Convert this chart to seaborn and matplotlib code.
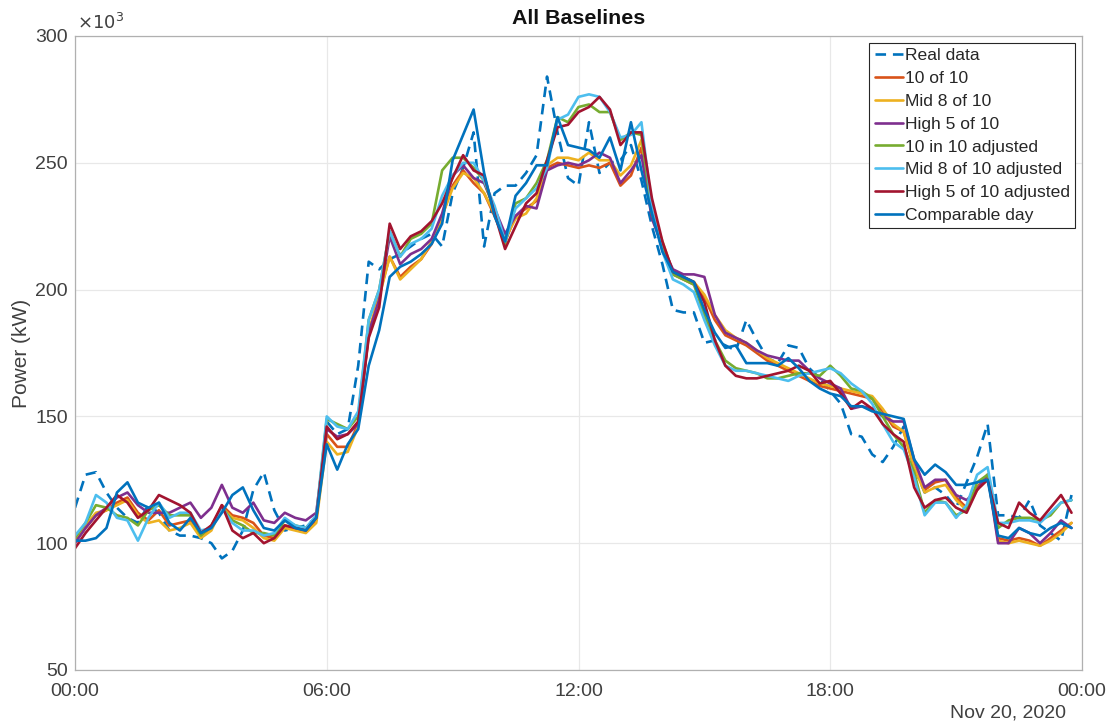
import numpy as np
import pandas as pd
import matplotlib
matplotlib.use("Agg")
import matplotlib.pyplot as plt
import matplotlib.dates as mdates
import seaborn as sns

# ---------------- data (kW, in thousands) ----------------
times = pd.date_range("2020-11-20 00:00", periods=96, freq="15min")

real_data = [
    114, 127, 128, 120, 114, 110, 108, 115, 112, 105, 103, 103,
    102, 100, 94, 97, 105, 121, 128, 113, 105, 106, 107, 110,
    148, 143, 145, 170, 211, 208, 212, 214, 217, 220, 222, 217,
    238, 248, 262, 217, 238, 241, 241, 246, 253, 284, 262, 244,
    241, 266, 246, 250, 251, 257, 243, 225, 210, 192, 191, 191,
    179, 180, 178, 176, 188, 180, 173, 171, 178, 177, 169, 165,
    160, 155, 143, 142, 135, 132, 138, 146, 130, 120, 122, 119,
    114, 124, 134, 147, 111, 111, 110, 117, 107, 104, 101, 119,
]
ten_of_ten = [
    101, 106, 111, 113, 116, 118, 112, 109, 113, 107, 108, 109,
    103, 106, 115, 111, 110, 108, 103, 102, 107, 106, 105, 109,
    143, 138, 138, 147, 182, 198, 213, 205, 209, 212, 218, 229,
    241, 247, 242, 238, 229, 219, 229, 232, 235, 248, 250, 249,
    248, 249, 248, 250, 241, 245, 256, 229, 218, 206, 204, 202,
    197, 188, 182, 180, 178, 175, 172, 170, 168, 166, 164, 162,
    161, 160, 159, 158, 157, 152, 146, 144, 130, 121, 124, 125,
    118, 114, 122, 127, 102, 101, 102, 101, 99, 102, 105, 108,
]
mid8_of_ten = [
    102, 107, 112, 113, 115, 117, 111, 108, 109, 105, 106, 108,
    102, 105, 114, 110, 109, 106, 102, 101, 106, 105, 104, 108,
    140, 135, 136, 146, 184, 197, 213, 204, 208, 212, 219, 229,
    240, 246, 244, 238, 230, 220, 228, 230, 236, 249, 252, 252,
    251, 254, 251, 251, 245, 249, 259, 231, 219, 207, 205, 203,
    198, 190, 184, 181, 179, 176, 173, 171, 169, 167, 165, 163,
    162, 161, 160, 159, 158, 153, 147, 144, 130, 120, 122, 123,
    117, 113, 121, 127, 101, 100, 101, 100, 99, 101, 104, 108,
]
high5_of_ten = [
    100, 106, 111, 114, 118, 120, 115, 112, 112, 112, 114, 116,
    110, 114, 123, 114, 112, 116, 109, 108, 112, 110, 109, 112,
    145, 142, 143, 147, 183, 196, 221, 210, 214, 216, 220, 230,
    245, 249, 244, 242, 232, 222, 229, 233, 232, 247, 249, 250,
    249, 251, 254, 252, 242, 247, 253, 228, 217, 208, 206, 206,
    205, 190, 183, 181, 179, 176, 174, 173, 172, 172, 168, 165,
    163, 161, 153, 154, 153, 150, 148, 148, 133, 122, 125, 125,
    119, 117, 121, 127, 100, 100, 106, 104, 100, 104, 109, 106,
]
ten_in_ten_adj = [
    102, 108, 115, 114, 111, 110, 107, 113, 115, 111, 111, 111,
    103, 107, 114, 109, 107, 104, 104, 103, 109, 107, 106, 110,
    149, 147, 145, 150, 188, 200, 223, 213, 220, 222, 226, 247,
    252, 252, 248, 243, 231, 218, 234, 236, 242, 251, 268, 266,
    272, 273, 270, 270, 259, 262, 261, 230, 217, 206, 204, 202,
    190, 180, 172, 169, 168, 167, 165, 165, 166, 167, 167, 166,
    170, 166, 161, 160, 157, 150, 143, 138, 128, 112, 117, 116,
    111, 113, 124, 127, 106, 109, 110, 110, 109, 111, 116, 117,
]
mid8_of_ten_adj = [
    103, 108, 119, 116, 110, 109, 101, 110, 116, 110, 112, 112,
    105, 106, 114, 108, 105, 105, 103, 104, 110, 107, 106, 111,
    150, 146, 145, 152, 188, 200, 223, 213, 218, 220, 224, 237,
    245, 250, 250, 243, 233, 219, 232, 236, 240, 248, 267, 269,
    276, 277, 276, 270, 260, 261, 266, 232, 215, 204, 202, 199,
    188, 178, 170, 168, 168, 167, 166, 165, 164, 166, 167, 168,
    169, 167, 163, 160, 155, 147, 140, 137, 126, 111, 116, 116,
    110, 115, 127, 130, 108, 108, 109, 109, 108, 112, 116, 117,
]
high5_of_ten_adj = [
    98, 104, 109, 114, 119, 116, 110, 113, 119, 117, 115, 112,
    104, 107, 115, 105, 102, 104, 100, 102, 107, 106, 105, 110,
    146, 141, 143, 148, 181, 193, 226, 216, 221, 223, 227, 234,
    244, 253, 247, 245, 230, 216, 225, 234, 238, 251, 264, 265,
    270, 272, 276, 271, 257, 262, 262, 236, 219, 207, 205, 203,
    195, 180, 170, 166, 165, 165, 166, 167, 168, 170, 168, 163,
    164, 159, 153, 156, 153, 147, 143, 140, 122, 114, 117, 118,
    114, 112, 121, 125, 108, 106, 116, 112, 109, 114, 119, 112,
]
comparable_day = [
    101, 101, 102, 106, 120, 124, 116, 114, 116, 108, 105, 110,
    104, 106, 112, 119, 122, 113, 106, 105, 109, 106, 105, 110,
    139, 129, 139, 145, 170, 184, 205, 209, 211, 214, 218, 226,
    251, 261, 271, 246, 229, 219, 237, 242, 249, 249, 268, 257,
    256, 255, 252, 260, 247, 266, 247, 230, 215, 207, 205, 203,
    192, 183, 177, 178, 171, 171, 171, 170, 173, 169, 164, 161,
    159, 158, 154, 154, 152, 151, 150, 149, 133, 127, 131, 128,
    123, 123, 124, 125, 103, 102, 106, 104, 103, 106, 108, 106,
]

series_names = ["Real data", "10 of 10", "Mid 8 of 10", "High 5 of 10",
                "10 in 10 adjusted", "Mid 8 of 10 adjusted",
                "High 5 of 10 adjusted", "Comparable day"]
series_values = [real_data, ten_of_ten, mid8_of_ten, high5_of_ten,
                 ten_in_ten_adj, mid8_of_ten_adj, high5_of_ten_adj,
                 comparable_day]
colors = ["#0072BD", "#D95319", "#EDB120", "#7E2F8E",
          "#77AC30", "#4DBEEE", "#A2142F", "#0072BD"]

y_ticks = [50, 100, 150, 200, 250, 300]

# ---------------- plotting ----------------
sns.set_theme(style="white")
plt.rcParams["font.family"] = ["Liberation Sans", "DejaVu Sans"]

fig = plt.figure(figsize=(11.19, 7.27), dpi=100)
ax = fig.add_axes([75 / 1119, 1 - 670 / 727, (1082 - 75) / 1119, (670 - 36) / 727])

for name, vals, col in zip(series_names, series_values, colors):
    df = pd.DataFrame({"time": times, "power": vals})
    if name == "Real data":
        sns.lineplot(data=df, x="time", y="power", ax=ax, color=col,
                     linewidth=1.9, label=name,
                     linestyle=(0, (4, 2.6)))
    else:
        sns.lineplot(data=df, x="time", y="power", ax=ax, color=col,
                     linewidth=1.9, label=name)

start = pd.Timestamp("2020-11-20 00:00")
end = pd.Timestamp("2020-11-21 00:00")
ax.set_xlim(start, end)
ax.set_ylim(50, 300)
ax.set_yticks(y_ticks)
ax.xaxis.set_major_locator(mdates.HourLocator(byhour=[0, 6, 12, 18]))
ax.xaxis.set_major_formatter(mdates.DateFormatter("%H:%M"))

tick_col = "#404040"
ax.tick_params(axis="both", which="major", direction="in", length=6,
               width=0.8, colors="#a0a0a0", labelcolor=tick_col,
               labelsize=14, top=False, right=False)
ax.tick_params(axis="x", pad=9)
ax.tick_params(axis="y", pad=5)
ax.grid(True, color="#e8e8e8", linewidth=0.9)
ax.set_axisbelow(True)
for sp in ax.spines.values():
    sp.set_color("#b0b0b0")
    sp.set_linewidth(0.9)
    sp.set_visible(True)

ax.set_xlabel("")
ax.set_ylabel("Power (kW)", fontsize=15, color=tick_col, labelpad=3)
ax.set_title("All Baselines", fontsize=15.4, fontweight="bold",
             color="#111111", pad=9)

ax.text(0.002, 1.004, r"$\times10^{3}$", transform=ax.transAxes,
        fontsize=13, color=tick_col, ha="left", va="bottom",
        math_fontfamily="dejavusans")
fig.text(1066 / 1119, 1 - 713 / 727, "Nov 20, 2020", fontsize=14,
         color=tick_col, ha="right", va="center")

leg = ax.legend(loc="upper right", fontsize=12.6, frameon=True,
                fancybox=False, framealpha=1, edgecolor="#262626",
                handlelength=1.6, handletextpad=0.12, labelspacing=0.43,
                borderpad=0.3, borderaxespad=0.4)
leg.get_frame().set_linewidth(0.8)

fig.savefig("out.png", dpi=100, facecolor="white")
